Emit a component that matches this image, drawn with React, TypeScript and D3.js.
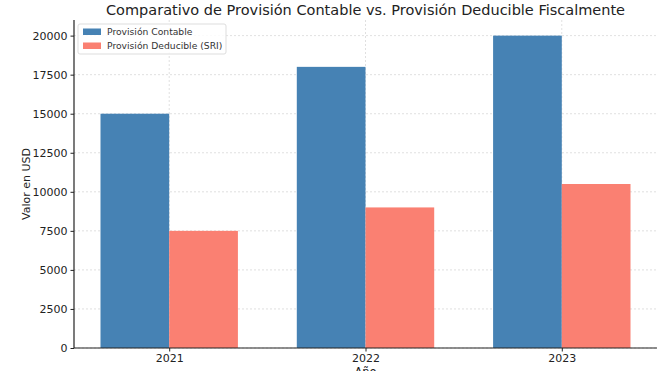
import { useRef, useEffect } from 'react'
import * as d3 from 'd3'

const years = ['2021', '2022', '2023']
const contable = [15000, 18000, 20000]
const deducible = [7500, 9000, 10500]
const seriesNames = ['Provisión Contable', 'Provisión Deducible (SRI)']
const seriesColors = ['#4682B4', '#FA8072']
const yTicks = [0, 2500, 5000, 7500, 10000, 12500, 15000, 17500, 20000]

const width = 666
const height = 371
const margin = { top: 20, right: 9, bottom: 23, left: 74 }
const font = 'DejaVu Sans, sans-serif'

export default function App() {
  const ref = useRef<SVGSVGElement>(null)

  useEffect(() => {
    const svg = d3.select(ref.current)
    svg.selectAll('*').remove()

    const innerW = width - margin.left - margin.right
    const innerH = height - margin.top - margin.bottom

    const barW = 0.35
    // matplotlib-like linear x with 5% margins
    const xMin = -barW - 0.135
    const xMax = years.length - 1 + barW + 0.135
    const x = d3.scaleLinear().domain([xMin, xMax]).range([0, innerW])
    const y = d3.scaleLinear().domain([0, 21000]).range([innerH, 0])
    const bw = x(barW) - x(0)

    const g = svg.append('g').attr('transform', `translate(${margin.left},${margin.top})`)

    // grid
    g.selectAll('.hgrid')
      .data(yTicks)
      .enter()
      .append('line')
      .attr('x1', 0)
      .attr('x2', innerW)
      .attr('y1', (d) => y(d))
      .attr('y2', (d) => y(d))
      .attr('stroke', '#d8d8d8')
      .attr('stroke-width', 0.8)
      .attr('stroke-dasharray', '2,2')

    g.selectAll('.vgrid')
      .data(years)
      .enter()
      .append('line')
      .attr('x1', (d, i) => x(i))
      .attr('x2', (d, i) => x(i))
      .attr('y1', 0)
      .attr('y2', innerH)
      .attr('stroke', '#d8d8d8')
      .attr('stroke-width', 0.8)
      .attr('stroke-dasharray', '2,2')

    // bars
    const series = [contable, deducible]
    series.forEach((vals, s) => {
      g.selectAll(`.bar-${s}`)
        .data(vals)
        .enter()
        .append('rect')
        .attr('x', (d, i) => x(i + (s === 0 ? -barW : 0)))
        .attr('y', (d) => y(d))
        .attr('width', bw)
        .attr('height', (d) => innerH - y(d))
        .attr('fill', seriesColors[s])
    })

    // axes
    const yAxis = d3.axisLeft(y).tickValues(yTicks).tickSize(3.5).tickPadding(3).tickFormat(d3.format('d'))
    const ya = g.append('g').call(yAxis)
    ya.select('.domain').attr('stroke', '#222').attr('stroke-width', 1.2).attr('d', `M0,0V${innerH}`)
    ya.selectAll('text').attr('font-family', font).attr('font-size', 11).attr('fill', '#222')
    ya.selectAll('line').attr('stroke', '#222')

    const xAxis = d3
      .axisBottom(x)
      .tickValues([0, 1, 2])
      .tickSize(3.5)
      .tickPadding(3)
      .tickFormat((d) => years[d as number])
    const xa = g.append('g').attr('transform', `translate(0,${innerH})`).call(xAxis)
    xa.select('.domain').attr('stroke', '#222').attr('stroke-width', 1.2).attr('d', `M0,0H${innerW}`)
    xa.selectAll('text').attr('font-family', font).attr('font-size', 11).attr('fill', '#222')
    xa.selectAll('line').attr('stroke', '#222')

    // labels
    svg
      .append('text')
      .attr('x', margin.left + innerW / 2)
      .attr('y', 15)
      .attr('text-anchor', 'middle')
      .attr('font-family', font)
      .attr('font-size', 14.5)
      .attr('fill', '#222')
      .text('Comparativo de Provisión Contable vs. Provisión Deducible Fiscalmente')

    svg
      .append('text')
      .attr('transform', `translate(30,${margin.top + innerH / 2}) rotate(-90)`)
      .attr('text-anchor', 'middle')
      .attr('font-family', font)
      .attr('font-size', 11)
      .attr('fill', '#222')
      .text('Valor en USD')

    svg
      .append('text')
      .attr('x', margin.left + innerW / 2)
      .attr('y', 376)
      .attr('text-anchor', 'middle')
      .attr('font-family', font)
      .attr('font-size', 11.5)
      .attr('fill', '#222')
      .text('Año')

    // legend
    const lg = g.append('g').attr('transform', 'translate(4,4)')
    lg.append('rect')
      .attr('width', 148)
      .attr('height', 30)
      .attr('rx', 2)
      .attr('fill', 'white')
      .attr('fill-opacity', 0.85)
      .attr('stroke', '#dddddd')
    seriesNames.forEach((name, i) => {
      lg.append('rect')
        .attr('x', 5)
        .attr('y', 4.5 + i * 14)
        .attr('width', 18)
        .attr('height', 6.5)
        .attr('fill', seriesColors[i])
      lg.append('text')
        .attr('x', 29)
        .attr('y', 11 + i * 14)
        .attr('font-family', font)
        .attr('font-size', 9.2)
        .attr('fill', '#333')
        .text(name)
    })
  }, [])

  return (
    <div>
      <svg ref={ref} width={width} height={height} style={{ position: 'absolute', left: 0, top: 0 }} />
    </div>
  )
}
